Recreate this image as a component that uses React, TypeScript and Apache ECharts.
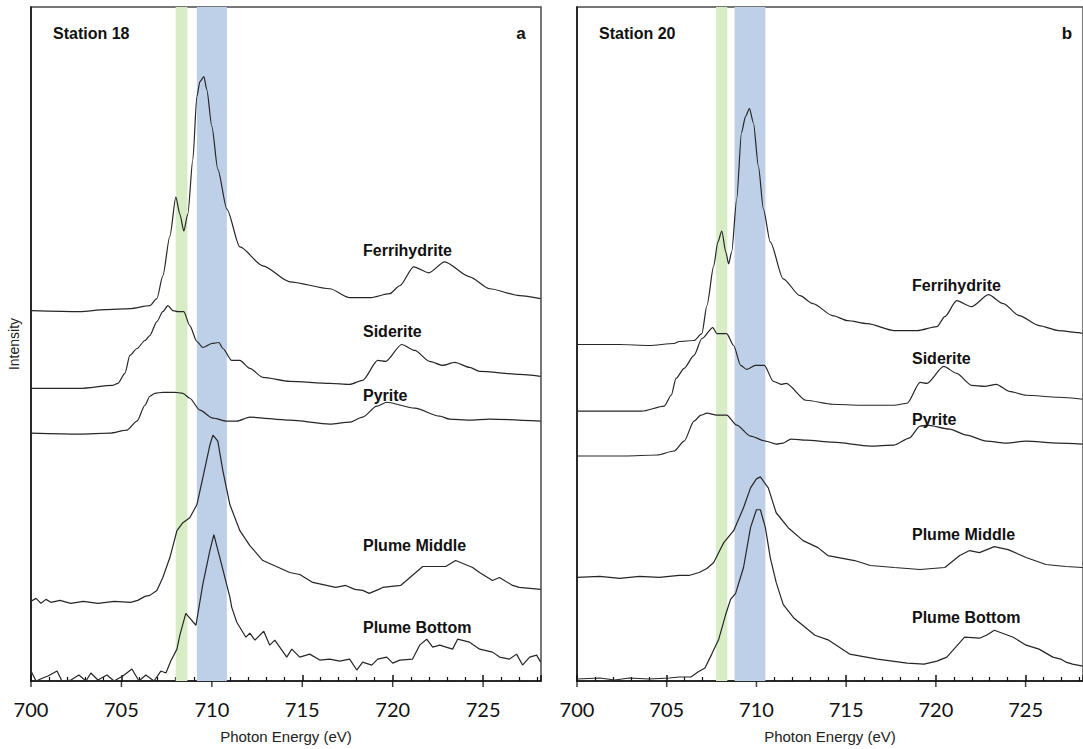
import React, { useEffect, useRef } from "react";
import * as echarts from "echarts";

// ---------- axis / tick data ----------
const X_MIN = 700;
const X_MAX = 728.2;
const X_MAJOR_STEP = 5;
const X_MINOR_SPLIT = 5;
const Y_MIN = 0;
const Y_MAX = 677;
const majorTicks = [700, 705, 710, 715, 720, 725];

const panelTitles = ["Station 18", "Station 20"];
const panelLetters = ["a", "b"];
const spectrumNames = ["Ferrihydrite", "Siderite", "Pyrite", "Plume Middle", "Plume Bottom"];

// highlighted energy bands [start, end] (eV)
const bands18 = { green: [708.0, 708.65], blue: [709.17, 710.83] };
const bands20 = { green: [707.75, 708.38], blue: [708.78, 710.5] };

// ---------- Station 18 spectra: [photon energy (eV), intensity (offset, a.u.)] ----------
const s18Ferrihydrite = [
  [700, 372], [702.71, 371], [704.09, 373], [705.47, 374], [706.57, 377], [706.96, 384], [707.29, 407],
  [707.68, 447], [708.01, 486], [708.23, 469], [708.45, 452], [708.67, 469], [708.95, 524], [709.17, 587],
  [709.34, 602], [709.56, 607], [709.72, 594], [710.0, 557], [710.33, 514], [710.83, 474], [711.55, 436],
  [712.82, 417], [714.31, 401], [716.52, 394], [717.62, 385], [718.73, 385], [719.83, 389], [720.39, 397],
  [721.16, 416], [721.99, 410], [722.87, 421], [724.25, 406], [725.36, 394], [727.02, 387], [728.18, 384],
];
const s18Siderite = [
  [700, 294], [702.71, 294], [704.53, 297], [704.81, 299], [705.19, 309], [705.47, 327], [705.86, 334],
  [706.3, 342], [706.57, 347], [706.96, 361], [707.29, 371], [707.57, 377], [707.85, 372], [708.12, 371],
  [708.45, 371], [708.78, 357], [709.17, 341], [709.5, 335], [710.0, 339], [710.39, 340], [710.61, 334],
  [711.1, 322], [711.55, 322], [712.1, 314], [712.82, 305], [714.31, 301], [716.52, 299], [717.62, 298],
  [718.34, 302], [719.17, 322], [719.61, 321], [720.5, 338], [721.22, 332], [722.04, 321], [722.76, 317],
  [723.43, 320], [724.25, 315], [724.81, 311], [727.02, 308], [728.18, 306],
];
const s18Pyrite = [
  [700, 249], [702.71, 248], [704.36, 249], [705.3, 252], [705.86, 261], [706.3, 277], [706.57, 286],
  [706.85, 289], [707.29, 290], [707.96, 290], [708.4, 289], [708.78, 284], [709.34, 272], [710.06, 264],
  [710.83, 261], [711.38, 261], [712.1, 265], [714.31, 262], [716.52, 258], [717.62, 260], [718.34, 265],
  [719.12, 276], [719.67, 280], [721.22, 274], [722.6, 266], [723.15, 263], [724.25, 262], [725.36, 263],
  [728.18, 261],
];
const s18PlumeMiddle = [
  [700, 80], [700.28, 83], [700.55, 78], [700.83, 82], [701.1, 79], [701.6, 81], [702.2, 78], [702.9, 80],
  [703.7, 78], [704.6, 80], [705.5, 79], [705.9, 81], [706.3, 85], [706.57, 86], [706.96, 91], [707.29, 104],
  [707.68, 124], [708.07, 151], [708.4, 159], [708.78, 164], [709.17, 177], [709.5, 204], [709.89, 237],
  [710.06, 247], [710.33, 241], [710.61, 211], [711.0, 177], [711.55, 151], [712.1, 136], [712.82, 121],
  [714.31, 109], [714.86, 107], [715.58, 99], [716.85, 94], [717.4, 96], [717.9, 92], [718.34, 91],
  [718.7, 88], [719.23, 92], [719.45, 94], [720.44, 96], [721.66, 115], [722.93, 115], [723.48, 121],
  [724.42, 114], [724.8, 109], [725.52, 101], [725.9, 104], [726.63, 96], [727.0, 94], [728.18, 92],
];
const s18PlumeBottom = [
  [700, 10], [700.28, 0], [700.66, 3], [700.94, 5], [701.44, 10], [701.71, 0], [702.21, 1], [702.65, 6],
  [703.04, 0], [703.31, 8], [703.7, 1], [704.2, 6], [704.59, 0], [705.08, 5], [705.58, 12], [705.97, 0],
  [706.35, 6], [706.8, 0], [707.18, 10], [707.46, 8], [707.73, 20], [708.07, 32], [708.23, 46], [708.56, 68],
  [708.84, 62], [709.12, 56], [709.5, 97], [709.89, 131], [710.11, 147], [710.44, 124], [711.0, 84],
  [711.1, 74], [711.38, 59], [711.88, 44], [712.1, 48], [712.38, 41], [712.87, 50], [713.2, 36], [713.48, 41],
  [713.87, 31], [714.14, 24], [714.42, 32], [714.86, 24], [715.41, 27], [715.97, 21], [716.52, 22],
  [717.07, 20], [717.62, 22], [718.01, 11], [718.34, 19], [718.84, 16], [719.17, 22], [719.67, 24],
  [720.0, 18], [720.39, 21], [721.1, 22], [721.49, 36], [721.88, 42], [722.21, 34], [722.6, 36], [723.31, 32],
  [723.59, 42], [724.25, 39], [724.81, 32], [725.52, 29], [725.91, 24], [726.46, 22], [726.85, 27],
  [727.18, 16], [727.57, 24], [727.96, 26], [728.18, 19],
];

// ---------- Station 20 spectra ----------
const s20Ferrihydrite = [
  [700, 338], [702.38, 338], [704.03, 337], [705.41, 339], [705.69, 341], [706.52, 342], [706.96, 349],
  [707.24, 377], [707.62, 417], [707.85, 441], [708.07, 452], [708.29, 431], [708.45, 419], [708.62, 431],
  [708.9, 484], [709.17, 551], [709.39, 567], [709.61, 575], [709.83, 561], [710.11, 517], [710.39, 474],
  [710.77, 441], [711.49, 404], [712.43, 387], [713.15, 379], [714.25, 367], [715.08, 362], [716.19, 359],
  [717.68, 352], [718.95, 352], [720.06, 356], [720.5, 366], [721.16, 382], [721.99, 376], [722.93, 388],
  [723.76, 379], [724.64, 367], [725.75, 357], [726.85, 352], [727.96, 350], [728.18, 349],
];
const s20Siderite = [
  [700, 271], [703.59, 271], [704.86, 276], [705.25, 287], [705.52, 304], [705.97, 314], [706.52, 327],
  [706.96, 344], [707.57, 355], [707.79, 349], [708.34, 349], [708.73, 337], [709.12, 317], [709.45, 313],
  [709.94, 317], [710.44, 317], [710.94, 301], [711.38, 298], [711.66, 299], [712.76, 282], [714.25, 278],
  [715.8, 277], [717.68, 277], [718.4, 279], [719.12, 300], [719.5, 299], [720.44, 316], [721.16, 309],
  [721.99, 297], [722.71, 296], [723.37, 298], [724.09, 291], [725.03, 287], [726.85, 285], [728.18, 283],
];
const s20Pyrite = [
  [700, 226], [702.65, 226], [704.48, 227], [705.41, 231], [705.97, 241], [706.52, 261], [706.91, 267],
  [707.24, 269], [707.79, 267], [708.34, 267], [708.9, 257], [709.67, 246], [710.5, 241], [711.1, 238],
  [711.49, 239], [711.93, 243], [712.76, 242], [714.25, 240], [716.35, 236], [717.68, 237], [718.51, 244],
  [719.12, 256], [719.5, 257], [720.77, 253], [721.71, 247], [722.82, 241], [723.92, 239], [725.03, 241],
  [726.85, 239], [728.18, 238],
];
const s20PlumeMiddle = [
  [700, 104], [701.27, 105], [702.38, 103], [703.48, 105], [704.59, 104], [705.69, 106], [706.24, 106],
  [706.8, 109], [707.24, 113], [707.62, 119], [707.9, 129], [708.18, 139], [708.73, 151], [709.28, 174],
  [709.67, 194], [710.0, 203], [710.22, 205], [710.66, 194], [711.1, 169], [711.77, 154], [712.6, 141],
  [713.43, 134], [713.98, 126], [715.47, 121], [716.35, 116], [717.68, 114], [719.12, 112], [720.5, 114],
  [721.33, 126], [721.88, 131], [722.43, 129], [723.26, 135], [724.03, 132], [725.03, 124], [726.13, 117],
  [727.24, 115], [728.18, 114],
];
const s20PlumeBottom = [
  [700, 2], [701.27, 3], [702.1, 1], [702.93, 3], [704.03, 2], [705.14, 3], [705.69, 4], [706.35, 4],
  [706.74, 9], [707.13, 13], [707.51, 27], [707.9, 42], [708.29, 67], [708.56, 82], [708.84, 88],
  [709.28, 114], [709.67, 154], [710.0, 172], [710.22, 172], [710.5, 154], [710.77, 124], [711.1, 99],
  [711.49, 77], [712.1, 63], [713.26, 46], [714.03, 41], [715.19, 27], [716.74, 22], [718.4, 18],
  [719.34, 17], [720.06, 20], [720.61, 24], [721.6, 44], [722.43, 43], [722.82, 46], [723.26, 51],
  [724.31, 44], [725.03, 36], [725.75, 32], [726.52, 24], [726.96, 22], [727.24, 19], [727.62, 17],
  [728.18, 15],
];

const stations = [
  { spectra: [s18Ferrihydrite, s18Siderite, s18Pyrite, s18PlumeMiddle, s18PlumeBottom], bands: bands18 },
  { spectra: [s20Ferrihydrite, s20Siderite, s20Pyrite, s20PlumeMiddle, s20PlumeBottom], bands: bands20 },
];

// ---------- layout (pixels) ----------
const GRID_TOP = 7;
const GRID_H = 677;
const GRID_W = 510;
const GRID_LEFTS = [31, 577];
const LABEL_X = [363, 912];
const LABEL_Y = [
  [250, 331, 395, 545, 627],
  [285, 358, 419, 534, 617],
];
const GREEN = "#d8edc6";
const BLUE = "#bed0e7";
const LINE = "#262626";
const AXIS = "#111";
const FONT = '"Liberation Sans", Arial, sans-serif';
const TICK_FONT = 'Lato, "Open Sans", sans-serif';

export default function App() {
  const ref = useRef<HTMLDivElement>(null);
  useEffect(() => {
    if (!ref.current) return;
    const chart = echarts.init(ref.current, null, { renderer: "svg" });

    const grids: any[] = [];
    const xAxes: any[] = [];
    const yAxes: any[] = [];
    const series: any[] = [];
    const graphics: any[] = [];

    stations.forEach((st, g) => {
      grids.push({
        left: GRID_LEFTS[g], top: GRID_TOP, width: GRID_W, height: GRID_H,
        show: true, borderColor: "#4a4a4a", borderWidth: 1.5,
      });
      xAxes.push({
        type: "value", gridIndex: g, min: X_MIN, max: X_MAX, interval: X_MAJOR_STEP,
        splitLine: { show: false },
        axisLine: { show: true, lineStyle: { color: AXIS, width: 1.5 } },
        axisTick: { show: true, inside: true, length: 6, lineStyle: { color: AXIS, width: 1.5 } },
        minorTick: { show: true, splitNumber: X_MINOR_SPLIT, length: 4, lineStyle: { color: AXIS, width: 1.2 } },
        axisLabel: { show: true, showMaxLabel: false, margin: 18, fontSize: 20, fontFamily: TICK_FONT, color: "#111" },
        name: "Photon Energy (eV)", nameLocation: "middle", nameGap: 48,
        nameTextStyle: { fontSize: 15, fontFamily: FONT, color: "#222" },
      });
      yAxes.push({
        type: "value", gridIndex: g, min: Y_MIN, max: Y_MAX,
        axisLine: { show: true, lineStyle: { color: AXIS, width: 1.5 } },
        axisTick: { show: false }, axisLabel: { show: false }, splitLine: { show: false },
        ...(g === 0
          ? { name: "Intensity", nameLocation: "middle", nameGap: 10, nameRotate: 90,
              nameTextStyle: { fontSize: 14, fontFamily: FONT, color: "#222" } }
          : {}),
      });

      st.spectra.forEach((data, i) => {
        const noisy = i >= 3;
        series.push({
          type: "line", xAxisIndex: g, yAxisIndex: g, data, name: spectrumNames[i],
          showSymbol: false, symbol: "none", smooth: noisy ? false : 0.25, smoothMonotone: "x",
          lineStyle: { color: LINE, width: 1.2 }, z: 3,
          ...(i === 0
            ? {
                markArea: {
                  silent: true,
                  data: [
                    [{ xAxis: st.bands.green[0], itemStyle: { color: GREEN } }, { xAxis: st.bands.green[1] }],
                    [{ xAxis: st.bands.blue[0], itemStyle: { color: BLUE } }, { xAxis: st.bands.blue[1] }],
                  ],
                },
              }
            : {}),
        });
        graphics.push({
          type: "text", x: LABEL_X[g], y: LABEL_Y[g][i], z: 10,
          style: { text: spectrumNames[i], font: `bold 16px ${FONT}`, fill: "#111", textAlign: "left", textVerticalAlign: "middle", verticalAlign: "middle" },
        });
      });

      // downward half of the major ticks (they cross the axis line)
      series.push({
        type: "scatter", xAxisIndex: g, yAxisIndex: g, clip: false, silent: true,
        data: majorTicks.map((v) => [v, Y_MIN]),
        symbol: "rect", symbolSize: [1.5, 6], symbolOffset: [0, 3],
        itemStyle: { color: AXIS },
      });

      graphics.push({
        type: "text", x: GRID_LEFTS[g] + 22, y: 33, z: 10,
        style: { text: panelTitles[g], font: `bold 16px ${FONT}`, fill: "#111", textAlign: "left", textVerticalAlign: "middle", verticalAlign: "middle" },
      });
      graphics.push({
        type: "text", x: GRID_LEFTS[g] + 490, y: 33, z: 10,
        style: { text: panelLetters[g], font: `bold 17px ${FONT}`, fill: "#111", textAlign: "center", textVerticalAlign: "middle", verticalAlign: "middle" },
      });
    });

    chart.setOption({
      animation: false,
      backgroundColor: "#ffffff",
      grid: grids,
      xAxis: xAxes,
      yAxis: yAxes,
      series,
      graphic: graphics,
    });
    return () => chart.dispose();
  }, []);

  return <div ref={ref} style={{ position: "absolute", left: 0, top: 0, width: 1083, height: 749 }} />;
}
